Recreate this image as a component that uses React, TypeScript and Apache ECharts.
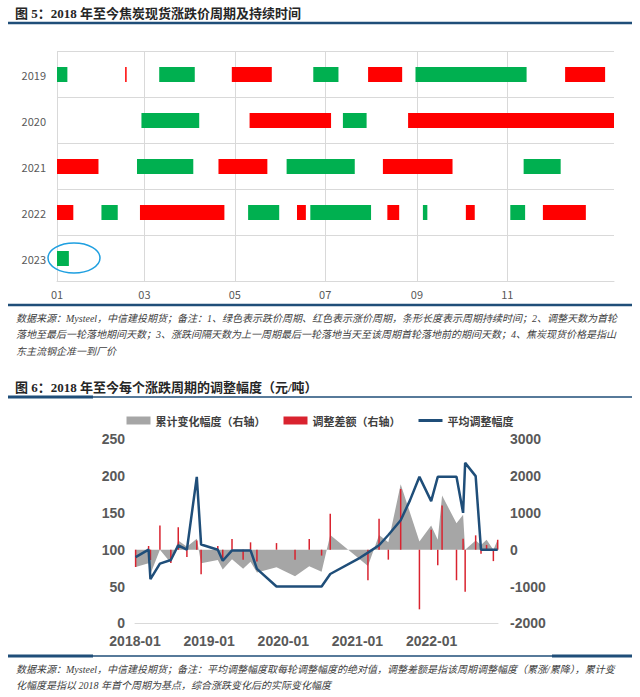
import * as echarts from "echarts";
import { useEffect, useRef } from "react";

// ---- 图5：涨跌价周期（甘特条） ----
const years = ["2019", "2020", "2021", "2022", "2023"];
const monthTicks = [0, 59, 120, 181, 243, 304]; // 当年第几天
const monthTickLabels = ["01", "03", "05", "07", "09", "11"];

// 红色：涨价周期 [开始, 结束]
const riseCycles = [
  ["2019-02-16", "2019-02-17"],
  ["2019-04-29", "2019-05-26"],
  ["2019-07-30", "2019-08-22"],
  ["2019-12-10", "2020-01-06"],
  ["2020-05-10", "2020-07-04"],
  ["2020-08-25", "2021-01-29"],
  ["2021-01-01", "2021-01-29"],
  ["2021-04-20", "2021-05-23"],
  ["2021-08-09", "2021-09-25"],
  ["2022-01-01", "2022-01-12"],
  ["2022-02-26", "2022-04-24"],
  ["2022-06-12", "2022-06-18"],
  ["2022-08-12", "2022-08-20"],
  ["2022-10-04", "2022-10-10"],
  ["2022-11-25", "2022-12-24"],
];

// 绿色：跌价周期
const fallCycles = [
  ["2019-01-01", "2019-01-08"],
  ["2019-03-11", "2019-04-04"],
  ["2019-06-23", "2019-07-10"],
  ["2019-08-31", "2019-11-14"],
  ["2020-02-27", "2020-04-06"],
  ["2020-07-12", "2020-07-28"],
  ["2021-02-24", "2021-04-03"],
  ["2021-06-05", "2021-07-21"],
  ["2021-11-12", "2021-12-07"],
  ["2022-01-31", "2022-02-11"],
  ["2022-05-10", "2022-05-31"],
  ["2022-06-21", "2022-08-01"],
  ["2022-09-05", "2022-09-08"],
  ["2022-11-03", "2022-11-13"],
  ["2023-01-01", "2023-01-09"],
];

// ---- 图6：每个周期的调整幅度 ----
const cycleDates = [
  "2018-01-04", "2018-03-07", "2018-03-16", "2018-05-02", "2018-06-25",
  "2018-08-01", "2018-09-13", "2018-11-01", "2018-11-22",
  "2019-02-13", "2019-03-07", "2019-04-22", "2019-06-16", "2019-07-22",
  "2019-08-23", "2019-11-28",
  "2020-02-28", "2020-05-07", "2020-07-07", "2020-08-19",
  "2021-01-13", "2021-02-22", "2021-04-16", "2021-06-01", "2021-08-01",
  "2021-09-16", "2021-11-02", "2021-12-29",
  "2022-02-01", "2022-02-22", "2022-05-02", "2022-06-04", "2022-06-14",
  "2022-08-05", "2022-09-01", "2022-09-28", "2022-11-01", "2022-11-22",
];
// 平均调整幅度（左轴）
const avgAdjust = [
  90, 100, 60, 81, 86, 106, 100, 199, 107,
  100, 85, 99, 99, 99, 74, 50,
  50, 50, 50, 67,
  89, 96, 106, 120, 140, 167, 199, 166,
  199, 199, 199, 150, 218, 200, 100, 100, 100, 100,
];
// 调整差额（右轴）
const adjustDiff = [
  -470, 100, -280, 660, -360, 610, -200, 250, -670,
  100, -270, 290, -270, 200, -320, 180,
  -270, 290, -160, 980,
  null, -830, 840, -270, 1650, null, -1620, 540,
  -420, 1200, -830, 300, -1140, 390, -110, 130, -310, 270,
];
// 累计变化幅度（右轴）
const cumChange = [
  -470, -370, -660, 0, -360, 250, 80, 300, -370,
  -280, -540, -260, -520, -330, -620, -480,
  -720, -450, -600, 400,
  null, -440, 400, 200, 1780, null, 220, 660,
  270, 1470, 720, 950, 0, 250, 130, 270, 0, 270,
];

const note5 = [
  "数据来源：Mysteel，中信建投期货；备注：1、绿色表示跌价周期、红色表示涨价周期，条形长度表示周期持续时间；2、调整天数为首轮",
  "落地至最后一轮落地期间天数；3、涨跌间隔天数为上一周期最后一轮落地当天至该周期首轮落地前的期间天数；4、焦炭现货价格是指山",
  "东主流钢企准一到厂价",
];
const note6 = [
  "数据来源：Mysteel，中信建投期货；备注：平均调整幅度取每轮调整幅度的绝对值，调整差额是指该周期调整幅度（累涨/累降），累计变",
  "化幅度是指以 2018 年首个周期为基点，综合涨跌变化后的实际变化幅度",
];

const BLUE = "#1F4E79";
const CJK = "'Noto Sans CJK SC', sans-serif";
const NUM = "'Liberation Sans', 'Noto Sans CJK SC', sans-serif";
const TITLE_FONT = "'Liberation Serif', 'Noto Sans CJK SC', serif";

const dayOfRow = (d: string, y: number) =>
  (Date.parse(d) - Date.UTC(y, 0, 1)) / 86400000;

const toMonth = (d: string) => {
  const [y, m, day] = d.split("-").map(Number);
  return (y - 2018) * 12 + (m - 1) + (day - 1) / 30;
};

const App = () => {
  const chartRef = useRef(null);

  useEffect(() => {
    const myChart = echarts.init(chartRef.current, null, { renderer: "svg" });

    const gantt: any[] = [];
    const addCycles = (list: string[][], color: string) => {
      list.forEach(([s, e]) => {
        const y = Number(s.slice(0, 4));
        gantt.push({
          value: [years.indexOf(String(y)), dayOfRow(s, y), dayOfRow(e, y)],
          itemStyle: { color },
        });
      });
    };
    addCycles(fallCycles, "#00B050");
    addCycles(riseCycles, "#FF0000");

    const xs = cycleDates.map(toMonth);
    const pairs = (vals: (number | null)[]) =>
      xs.map((x, i) => [x, vals[i]]).filter((p) => p[1] !== null);

    const axisText = { color: "#595959", fontFamily: CJK };
    const numText = { color: "#595959", fontFamily: NUM, fontSize: 14, fontWeight: "bold" };

    const graphic: any[] = [
      {
        type: "text", x: 15, y: 13,
        style: {
          text: "图 5：2018 年至今焦炭现货涨跌价周期及持续时间",
          fontSize: 13, fontWeight: "bold", fontFamily: TITLE_FONT,
          fill: "#262626", verticalAlign: "middle",
        },
      },
      { type: "line", shape: { x1: 8, y1: 23, x2: 632, y2: 23 }, style: { stroke: BLUE, lineWidth: 2.5 } },
      { type: "line", shape: { x1: 8, y1: 305, x2: 632, y2: 305 }, style: { stroke: BLUE, lineWidth: 2.5 } },
      {
        type: "text", x: 15, y: 387,
        style: {
          text: "图 6：2018 年至今每个涨跌周期的调整幅度（元/吨）",
          fontSize: 13, fontWeight: "bold", fontFamily: TITLE_FONT,
          fill: "#262626", verticalAlign: "middle",
        },
      },
      { type: "line", shape: { x1: 8, y1: 397, x2: 632, y2: 397 }, style: { stroke: BLUE, lineWidth: 1.5 } },
      { type: "line", shape: { x1: 8, y1: 397, x2: 93, y2: 397 }, style: { stroke: BLUE, lineWidth: 3 } },
      { type: "line", shape: { x1: 8, y1: 656, x2: 632, y2: 656 }, style: { stroke: BLUE, lineWidth: 1.5 } },
      { type: "line", shape: { x1: 8, y1: 656, x2: 93, y2: 656 }, style: { stroke: BLUE, lineWidth: 3 } },
      { type: "line", shape: { x1: 552, y1: 656, x2: 632, y2: 656 }, style: { stroke: BLUE, lineWidth: 3 } },
      {
        type: "ellipse", z: 100,
        shape: { cx: 74, cy: 258, rx: 26, ry: 15 },
        style: { fill: "none", stroke: "#1E9FE0", lineWidth: 1.5 },
      },
    ];
    note5.forEach((t, i) =>
      graphic.push({
        type: "text", x: 16, y: 318 + i * 16.5,
        style: {
          text: t, fontSize: 10, fontStyle: "italic", fontFamily: TITLE_FONT,
          fill: "#404040", verticalAlign: "middle",
        },
      })
    );
    note6.forEach((t, i) =>
      graphic.push({
        type: "text", x: 16, y: 669 + i * 16.5,
        style: {
          text: t, fontSize: 10, fontStyle: "italic", fontFamily: TITLE_FONT,
          fill: "#404040", verticalAlign: "middle",
        },
      })
    );

    const option: any = {
      animation: false,
      backgroundColor: "#ffffff",
      graphic,
      legend: {
        top: 410,
        left: "center",
        itemWidth: 24,
        itemHeight: 8,
        itemGap: 18,
        textStyle: { fontSize: 11, fontWeight: "bold", color: "#404040", fontFamily: CJK },
        data: [
          { name: "累计变化幅度（右轴）", icon: "rect" },
          { name: "调整差额（右轴）", icon: "rect" },
          { name: "平均调整幅度", icon: "path://M0,0 L24,0 L24,3 L0,3 Z" },
        ],
      },
      grid: [
        { left: 57, right: 26, top: 51.5, height: 230 },
        { left: 135, right: 142, top: 439.3, height: 184 },
      ],
      xAxis: [
        {
          gridIndex: 0,
          type: "value",
          min: 0,
          max: 376,
          axisLine: { show: true, lineStyle: { color: "#D9D9D9" } },
          axisTick: { show: false, customValues: monthTicks },
          axisLabel: {
            ...axisText,
            fontSize: 11,
            margin: 7,
            customValues: monthTicks,
            formatter: (v: number) => monthTickLabels[monthTicks.indexOf(v)] ?? "",
          },
          splitLine: { show: true, lineStyle: { color: "#D9D9D9" } },
        },
        {
          gridIndex: 1,
          type: "value",
          min: 0,
          max: 58.75,
          interval: 12,
          axisLine: { show: true, onZero: false, lineStyle: { color: "#D9D9D9" } },
          axisTick: { show: false },
          axisLabel: {
            ...numText,
            lineHeight: 15,
            margin: 10,
            showMaxLabel: false,
            formatter: (v: number) => (v % 12 === 0 ? `${2018 + v / 12}-01` : ""),
          },
          splitLine: { show: false },
        },
      ],
      yAxis: [
        {
          gridIndex: 0,
          type: "category",
          data: years,
          inverse: true,
          axisLine: { show: false },
          axisTick: { show: false },
          axisLabel: { ...axisText, fontSize: 11, margin: 11 },
          splitLine: { show: true, lineStyle: { color: "#D9D9D9" } },
        },
        {
          gridIndex: 1,
          type: "value",
          min: 0,
          max: 250,
          interval: 50,
          axisLine: { show: false },
          axisTick: { show: false },
          axisLabel: { ...numText, lineHeight: 15, margin: 10 },
          splitLine: { show: false },
        },
        {
          gridIndex: 1,
          type: "value",
          position: "right",
          min: -2000,
          max: 3000,
          interval: 1000,
          axisLine: { show: false },
          axisTick: { show: false },
          axisLabel: {
            ...numText,
            lineHeight: 15,
            margin: 12,
            formatter: (v: number) => String(v),
          },
          splitLine: { show: false },
        },
      ],
      series: [
        {
          type: "custom",
          xAxisIndex: 0,
          yAxisIndex: 0,
          encode: { x: [1, 2], y: 0 },
          data: gantt,
          renderItem: (params: any, api: any) => {
            const row = api.value(0);
            const s = api.coord([api.value(1), row]);
            const e = api.coord([api.value(2), row]);
            const h = 15;
            const shape = echarts.graphic.clipRectByRect(
              { x: s[0], y: s[1] - h / 2, width: Math.max(e[0] - s[0], 1.5), height: h },
              {
                x: params.coordSys.x,
                y: params.coordSys.y,
                width: params.coordSys.width,
                height: params.coordSys.height,
              }
            );
            return shape && { type: "rect", shape, style: { fill: api.visual("color") } };
          },
        },
        {
          name: "累计变化幅度（右轴）",
          type: "line",
          xAxisIndex: 1,
          yAxisIndex: 2,
          color: "#A6A6A6",
          symbol: "none",
          lineStyle: { width: 0 },
          areaStyle: { color: "#A6A6A6", opacity: 1 },
          data: pairs(cumChange),
          z: 1,
        },
        {
          name: "调整差额（右轴）",
          type: "bar",
          xAxisIndex: 1,
          yAxisIndex: 2,
          color: "#D9232F",
          barWidth: 1.5,
          data: pairs(adjustDiff),
          z: 2,
        },
        {
          name: "平均调整幅度",
          type: "line",
          xAxisIndex: 1,
          yAxisIndex: 1,
          color: BLUE,
          symbol: "none",
          lineStyle: { width: 2.5, color: BLUE },
          data: pairs(avgAdjust),
          z: 3,
        },
      ],
    };

    myChart.setOption(option);
    return () => {
      myChart.dispose();
    };
  }, []);

  return (
    <div
      ref={chartRef}
      style={{ position: "fixed", left: 0, top: 0, width: "640px", height: "697px", background: "#fff" }}
    />
  );
};

export default App;
